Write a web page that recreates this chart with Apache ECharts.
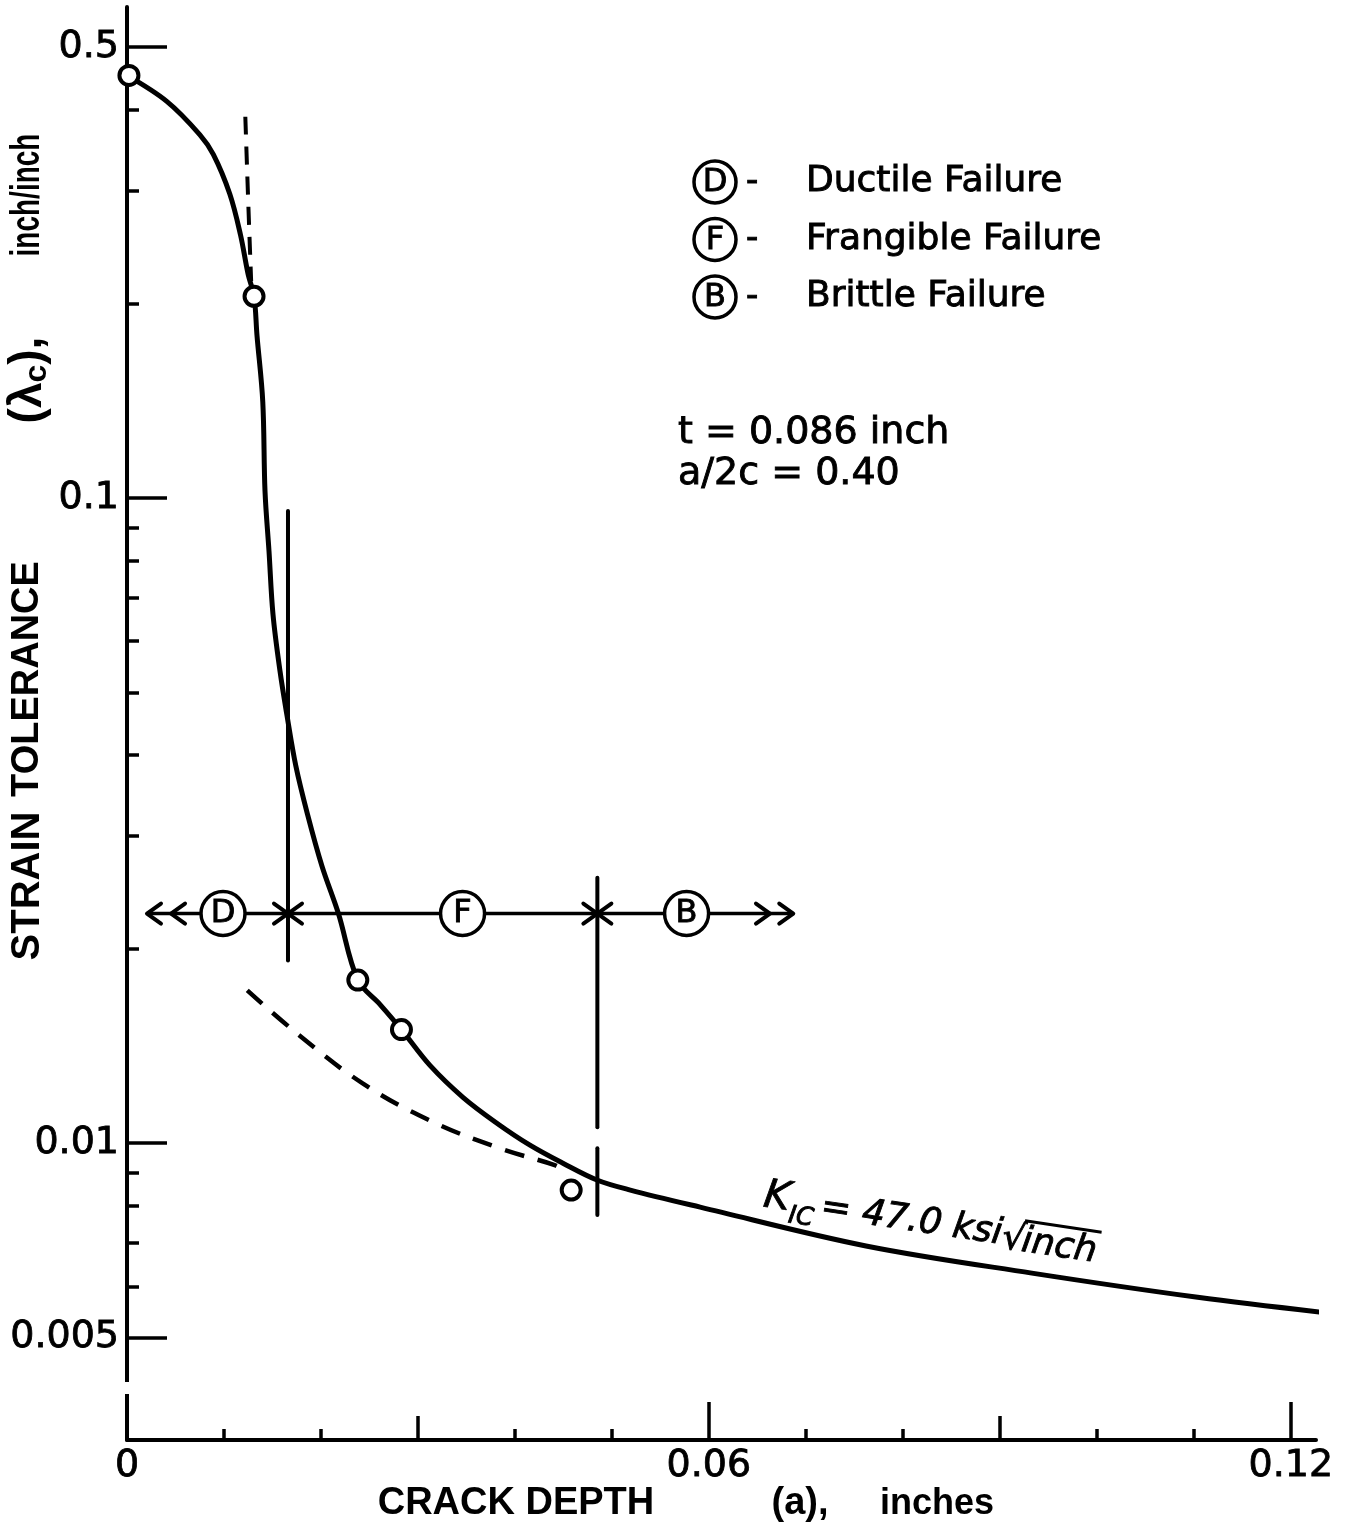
<!DOCTYPE html>
<html>
<head>
<meta charset="utf-8">
<style>
html, body { margin: 0; padding: 0; background: #fff; }
#chart { width: 1349px; height: 1529px; }
</style>
<script src="https://cdn.jsdelivr.net/npm/echarts@6/dist/echarts.min.js"></script>
</head>
<body>
<div id="chart"></div>
<script>
// strain tolerance vs crack depth
const curveX = [0.0, 0.0041, 0.0075, 0.0089, 0.0106, 0.0117, 0.0125, 0.0131, 0.0134, 0.0140,
  0.01423, 0.01464, 0.01505, 0.01577, 0.0165, 0.0174, 0.0186, 0.0201, 0.0218, 0.0238,
  0.0261, 0.0283, 0.03124, 0.03464, 0.03814, 0.04155, 0.04495, 0.04845, 0.0519, 0.0591,
  0.0762, 0.0933, 0.1104, 0.1232];
const curveY = [0.452, 0.412, 0.366, 0.341, 0.296, 0.256, 0.222, 0.2055, 0.179, 0.141,
  0.1025, 0.0828, 0.0661, 0.054, 0.046, 0.0385, 0.0324, 0.0269, 0.0227, 0.0179,
  0.0164, 0.0150, 0.0132, 0.01178, 0.01074, 0.00993, 0.00931, 0.00877, 0.00846, 0.00796,
  0.00693, 0.00629, 0.00577, 0.00547];

// measured points
const pointX = [0.0002, 0.0131, 0.0238, 0.0283, 0.0458];
const pointY = [0.452, 0.2055, 0.0179, 0.0150, 0.00846];

// dashed extrapolations
const dashTopX = [0.0122, 0.0125, 0.0128];
const dashTopY = [0.390, 0.288, 0.217];
const dashLowX = [0.0124, 0.0175, 0.0243, 0.0312, 0.0381, 0.0441, 0.0447];
const dashLowY = [0.01725, 0.01481, 0.01238, 0.01085, 0.00986, 0.00925, 0.00915];

// failure mode boundaries
const bound1X = 0.0166;
const bound1Y = [0.0955, 0.0192];
const bound2X = 0.0485;
const bound2YA = [0.0258, 0.01059];
const bound2YB = [0.00982, 0.00774];

// zone arrow
const arrowY = 0.0227;
const arrowFrom = 0.00206;
const arrowTo = 0.0687;
const arrowHeads = [[0.00206, -1], [0.00454, -1], [0.0166, 1], [0.0166, -1],
  [0.0485, 1], [0.0485, -1], [0.0663, 1], [0.0687, 1]];
const zoneX = [0.0099, 0.0346, 0.0577];
const zoneLetters = ['D', 'F', 'B'];

// axes
const xMin = 0, xMax = 0.1226;
const xLabelValues = [0, 0.06, 0.12];
const xTickLabels = ['0', '0.06', '0.12'];
const xLongTicks = [0.06, 0.12];
const xMidTicks = [0.03, 0.09];
const xShortTicks = [0.01, 0.02, 0.04, 0.05, 0.07, 0.08, 0.10, 0.11];

const yMin = 0.003467, yMax = 0.577;
const yLabelValues = [0.5, 0.1, 0.01, 0.005];
const yTickLabels = ['0.5', '0.1', '0.01', '0.005'];
const yShortTicks = [0.4, 0.3, 0.2, 0.09, 0.08, 0.07, 0.06, 0.05, 0.04, 0.03, 0.02,
  0.009, 0.008, 0.007, 0.006];

const legendLetters = ['D', 'F', 'B'];
const legendTexts = ['Ductile Failure', 'Frangible Failure', 'Brittle Failure'];

const FONT = '"DejaVu Sans", sans-serif';
const BLACK = '#000';

const pick = (vals, labels) => v => {
  const i = vals.findIndex(t => Math.abs(t - v) < 1e-9);
  return i >= 0 ? labels[i] : '';
};
const zip = (xs, ys) => xs.map((x, i) => [x, ys[i]]);

const chart = echarts.init(document.getElementById('chart'));

function xAxisLayer(ticks, len, withLine) {
  return {
    type: 'value', min: xMin, max: xMax, position: 'bottom',
    axisLine: { show: withLine, onZero: false, lineStyle: { color: BLACK, width: 4 } },
    axisTick: { show: true, inside: true, length: len, customValues: ticks,
      lineStyle: { color: BLACK, width: 3.5 } },
    axisLabel: withLine ? {
      show: true, customValues: xLabelValues, formatter: pick(xLabelValues, xTickLabels),
      margin: 7, color: BLACK, fontSize: 38, fontFamily: FONT,
      textBorderColor: BLACK, textBorderWidth: 0.8
    } : { show: false },
    splitLine: { show: false }
  };
}

function yAxisLayer(ticks, len, withLine) {
  return {
    type: 'log', logBase: 10, min: yMin, max: yMax, position: 'left',
    axisLine: { show: withLine, onZero: false, lineStyle: { color: BLACK, width: 4 } },
    axisTick: { show: true, inside: true, length: len, customValues: ticks,
      lineStyle: { color: BLACK, width: 3.5 } },
    axisLabel: withLine ? {
      show: true, customValues: yLabelValues, formatter: pick(yLabelValues, yTickLabels),
      margin: 8, color: BLACK, fontSize: 38, fontFamily: FONT,
      textBorderColor: BLACK, textBorderWidth: 0.8
    } : { show: false },
    splitLine: { show: false },
    minorTick: { show: false }
  };
}

// width of text pieces for the K_IC label
const ctx = document.createElement('canvas').getContext('2d');
function textW(str, size) {
  ctx.font = 'italic ' + size + 'px "DejaVu Sans"';
  return ctx.measureText(str).width;
}
const kW = textW('K', 40);
const icW = textW('IC', 25);
const midStr = '= 47.0 ksi';
const midW = textW(midStr, 36);
const rootW = textW('\u221A', 36);
const inchW = textW('inch', 36);
const icX = kW + 1;
const midX = icX + icW + 6;
const rootX = midX + midW + 1;
const inchX = rootX + rootW - 3;

const heavy = { stroke: BLACK, lineWidth: 0.9 };

const legendGraphics = [];
legendLetters.forEach((L, i) => {
  const cy = 182 + i * 57.5;
  legendGraphics.push(
    { type: 'circle', shape: { cx: 715, cy: cy, r: 21 },
      style: { fill: '#fff', stroke: BLACK, lineWidth: 3.5 } },
    { type: 'text', x: 715, y: cy + 1, style: Object.assign({ text: L, font: '32px ' + FONT, fill: BLACK,
      align: 'center', verticalAlign: 'middle' }, heavy) },
    { type: 'text', x: 746, y: cy, style: Object.assign({ text: '-', font: '34px ' + FONT, fill: BLACK,
      align: 'left', verticalAlign: 'middle' }, heavy) },
    { type: 'text', x: 806, y: cy, style: Object.assign({ text: legendTexts[i], font: '36px ' + FONT, fill: BLACK,
      align: 'left', verticalAlign: 'middle' }, heavy) }
  );
});

const option = {
  backgroundColor: '#fff',
  animation: false,
  grid: { left: 127, top: 7, right: 33, bottom: 89, outerBoundsMode: 'none' },
  xAxis: [
    xAxisLayer(xLongTicks, 38, true),
    xAxisLayer(xMidTicks, 24, false),
    xAxisLayer(xShortTicks, 11, false)
  ],
  yAxis: [
    yAxisLayer(yLabelValues, 40, true),
    yAxisLayer(yShortTicks, 12, false)
  ],
  series: [
    {
      type: 'line', data: zip(curveX, curveY), smooth: 0.35,
      symbol: 'none', clip: false, z: 3,
      lineStyle: { color: BLACK, width: 5 }
    },
    {
      type: 'line', data: zip(dashTopX, dashTopY), smooth: true, symbol: 'none', z: 3,
      lineStyle: { color: BLACK, width: 4, type: [18, 12] }
    },
    {
      type: 'line', data: zip(dashLowX, dashLowY), smooth: 0.4, symbol: 'none', z: 3,
      lineStyle: { color: BLACK, width: 4.5, type: [20, 14] }
    },
    {
      type: 'line', data: [[bound1X, bound1Y[0]], [bound1X, bound1Y[1]]], symbol: 'none', z: 3,
      lineStyle: { color: BLACK, width: 4, cap: 'round' }
    },
    {
      type: 'line', data: [[bound2X, bound2YA[0]], [bound2X, bound2YA[1]]], symbol: 'none', z: 3,
      lineStyle: { color: BLACK, width: 4, cap: 'round' }
    },
    {
      type: 'line', data: [[bound2X, bound2YB[0]], [bound2X, bound2YB[1]]], symbol: 'none', z: 3,
      lineStyle: { color: BLACK, width: 4, cap: 'round' }
    },
    {
      type: 'line', data: [[arrowFrom, arrowY], [arrowTo, arrowY]], symbol: 'none', z: 3,
      lineStyle: { color: BLACK, width: 3.5 }
    },
    {
      type: 'custom', coordinateSystem: 'cartesian2d', z: 4, clip: false, silent: true,
      data: arrowHeads.map(h => [h[0], arrowY, h[1]]),
      encode: { x: 0, y: 1 },
      renderItem: (params, api) => {
        const p = api.coord([api.value(0), api.value(1)]);
        const d = api.value(2);
        return {
          type: 'polyline',
          shape: { points: [[p[0] - d * 14, p[1] - 10], [p[0], p[1]], [p[0] - d * 14, p[1] + 10]] },
          style: { stroke: BLACK, lineWidth: 4, fill: 'none', lineCap: 'round', lineJoin: 'round' }
        };
      }
    },
    {
      type: 'scatter', z: 5, symbol: 'circle', symbolSize: 44,
      data: zoneX.map(x => [x, arrowY]),
      itemStyle: { color: '#fff', borderColor: BLACK, borderWidth: 3.5, opacity: 1 },
      label: {
        show: true, position: 'inside', color: BLACK, fontSize: 32, fontFamily: FONT,
        textBorderColor: BLACK, textBorderWidth: 0.9,
        formatter: p => zoneLetters[p.dataIndex]
      }
    },
    {
      type: 'scatter', z: 6, symbol: 'circle', symbolSize: 19, clip: false,
      data: zip(pointX, pointY),
      itemStyle: { color: '#fff', borderColor: BLACK, borderWidth: 4, opacity: 1 }
    }
  ],
  graphic: [
    // small break in the y axis near the bottom
    { type: 'rect', shape: { x: 118, y: 1382, width: 18, height: 12 }, style: { fill: '#fff' }, z: 100 },
    ...legendGraphics,
    { type: 'text', x: 678, y: 433, style: Object.assign({ text: 't = 0.086 inch', font: '38px ' + FONT,
      fill: BLACK, verticalAlign: 'middle' }, heavy) },
    { type: 'text', x: 678, y: 474, style: Object.assign({ text: 'a/2c = 0.40', font: '38px ' + FONT,
      fill: BLACK, verticalAlign: 'middle' }, heavy) },
    {
      type: 'group', x: 764, y: 1196, rotation: -0.148,
      children: [
        { type: 'text', x: 0, y: 0, style: Object.assign({ text: 'K', font: 'italic 40px "DejaVu Sans"', fill: BLACK,
          verticalAlign: 'middle' }, heavy) },
        { type: 'text', x: icX, y: 16, style: Object.assign({ text: 'IC', font: 'italic 25px "DejaVu Sans"', fill: BLACK,
          verticalAlign: 'middle' }, heavy) },
        { type: 'text', x: midX, y: 3, style: Object.assign({ text: midStr, font: 'italic 36px "DejaVu Sans"', fill: BLACK,
          verticalAlign: 'middle' }, heavy) },
        { type: 'text', x: rootX, y: 7, style: Object.assign({ text: '\u221A', font: 'italic 36px "DejaVu Sans"', fill: BLACK,
          verticalAlign: 'middle' }, heavy) },
        { type: 'text', x: inchX, y: 7, style: Object.assign({ text: 'inch', font: 'italic 36px "DejaVu Sans"', fill: BLACK,
          verticalAlign: 'middle' }, heavy) },
        { type: 'line', shape: { x1: inchX, y1: -14, x2: inchX + inchW + 2, y2: -14 },
          style: { stroke: BLACK, lineWidth: 3 } }
      ]
    },
    // y axis title
    { type: 'text', x: 28, y: 886, rotation: Math.PI / 2, style: { text: 'STRAIN', font: 'bold 40px "Liberation Sans"',
      fill: BLACK, align: 'center', verticalAlign: 'middle' } },
    { type: 'text', x: 28, y: 679, rotation: Math.PI / 2, style: { text: 'TOLERANCE', font: 'bold 38px "Liberation Sans"',
      fill: BLACK, align: 'center', verticalAlign: 'middle' } },
    { type: 'text', x: 28, y: 380, rotation: Math.PI / 2, style: {
      text: '{a|(\u03BB}{s|c}{a|),}', align: 'center', verticalAlign: 'middle',
      rich: { a: { font: 'bold 46px "Liberation Sans"', fill: BLACK },
        s: { font: 'bold 32px "Liberation Sans"', fill: BLACK, padding: [18, 0, 0, 0] } } } },
    { type: 'text', x: 28, y: 195, rotation: Math.PI / 2, scaleX: 0.7, style: { text: 'inch/inch', font: 'bold 40px "Liberation Sans"',
      fill: BLACK, align: 'center', verticalAlign: 'middle' } },
    // x axis title
    { type: 'text', x: 516, y: 1504, style: { text: 'CRACK DEPTH', font: 'bold 38px "Liberation Sans"',
      fill: BLACK, align: 'center', verticalAlign: 'middle' } },
    { type: 'text', x: 800, y: 1504, style: { text: '(a),', font: 'bold 38px "Liberation Sans"',
      fill: BLACK, align: 'center', verticalAlign: 'middle' } },
    { type: 'text', x: 937, y: 1504, style: { text: 'inches', font: 'bold 36px "Liberation Sans"',
      fill: BLACK, align: 'center', verticalAlign: 'middle' } }
  ]
};

chart.setOption(option);
</script>
</body>
</html>
